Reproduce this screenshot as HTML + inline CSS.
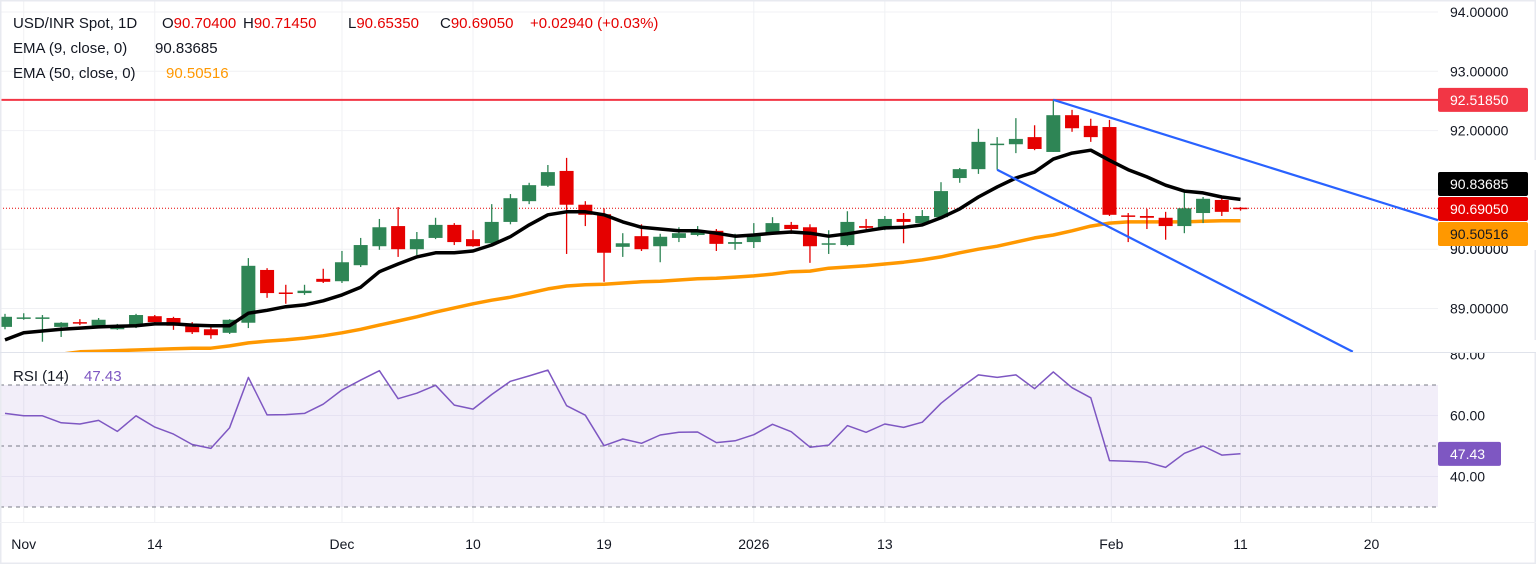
<!DOCTYPE html>
<html><head><meta charset="utf-8">
<style>
html,body{margin:0;padding:0;background:#fff;}
body{width:1536px;height:564px;overflow:hidden;font-family:"Liberation Sans",sans-serif;}
svg{display:block;}
text{font-family:"Liberation Sans",sans-serif;}
</style></head>
<body>
<svg id="chart" width="1536" height="564" viewBox="0 0 1536 564" xmlns="http://www.w3.org/2000/svg">
  <rect x="0" y="0" width="1536" height="564" fill="#fff"/>
  <defs>
    <clipPath id="pclip"><rect x="0" y="0" width="1438" height="352"/></clipPath>
    <clipPath id="rclip"><rect x="0" y="353" width="1438" height="168"/></clipPath>
  </defs>
  <g id="grid"></g>
  <g id="rsiBg"></g>
  <g id="price" clip-path="url(#pclip)"></g>
  <g id="rsi" clip-path="url(#rclip)"></g>
  <g id="axes"></g>
  <g id="legend" font-size="15">
    <text x="13" y="28" fill="#131722">USD/INR Spot, 1D</text>
    <text x="162" y="28" fill="#131722">O<tspan fill="#e50000">90.70400</tspan></text>
    <text x="243" y="28" fill="#131722">H<tspan fill="#e50000">90.71450</tspan></text>
    <text x="348" y="28" fill="#131722">L<tspan fill="#e50000">90.65350</tspan></text>
    <text x="440" y="28" fill="#131722">C<tspan fill="#e50000">90.69050</tspan></text>
    <text x="530" y="28" fill="#e50000">+0.02940 (+0.03%)</text>
    <text x="13" y="53" fill="#131722">EMA (9, close, 0)</text>
    <text x="155" y="53" fill="#131722">90.83685</text>
    <text x="13" y="78" fill="#131722">EMA (50, close, 0)</text>
    <text x="166" y="78" fill="#ff9800">90.50516</text>
    <text x="13" y="381" fill="#131722">RSI (14)</text>
    <text x="84" y="381" fill="#7e57c2">47.43</text>
  </g>
</svg>
<script>
const opens = [88.69,88.84,88.84,88.69,88.77,88.71,88.65,88.71,88.87,88.84,88.72,88.65,88.59,88.76,89.65,89.27,89.26,89.50,89.46,89.73,90.05,90.39,90.00,90.19,90.41,90.17,90.10,90.46,90.81,91.07,91.32,90.75,90.59,90.04,90.22,90.05,90.19,90.24,90.31,90.09,90.12,90.26,90.41,90.37,90.09,90.07,90.39,90.34,90.51,90.44,90.54,91.20,91.35,91.76,91.77,91.89,91.64,92.26,92.08,92.06,90.57,90.56,90.53,90.39,90.61,90.83,90.70];
const highs = [88.91,88.92,88.89,88.77,88.82,88.84,88.74,88.91,88.89,88.86,88.77,88.69,88.82,89.85,89.68,89.40,89.40,89.67,89.97,90.19,90.51,90.71,90.29,90.53,90.44,90.32,90.76,90.93,91.12,91.42,91.54,90.81,90.69,90.27,90.42,90.26,90.37,90.39,90.34,90.26,90.44,90.54,90.46,90.42,90.32,90.64,90.51,90.56,90.61,90.66,91.13,91.37,92.03,91.89,92.21,92.09,92.52,92.35,92.20,92.18,90.61,90.68,90.63,90.97,90.88,90.88,90.71];
const lows = [88.65,88.81,88.44,88.52,88.72,88.69,88.64,88.67,88.72,88.64,88.57,88.49,88.57,88.67,89.18,89.08,89.23,89.43,89.43,89.70,89.99,89.87,89.90,90.17,90.07,90.04,90.07,90.42,90.76,91.05,89.92,90.39,89.45,89.87,89.97,89.78,90.12,90.22,89.97,89.99,90.02,90.24,90.26,89.77,89.92,90.05,90.34,90.32,90.10,90.42,90.53,91.12,91.27,91.34,91.62,91.67,91.64,91.98,91.81,90.56,90.12,90.34,90.16,90.27,90.44,90.56,90.65];
const closes = [88.86,88.85,88.85,88.76,88.75,88.81,88.71,88.89,88.77,88.71,88.60,88.55,88.81,89.72,89.26,89.26,89.30,89.45,89.78,90.07,90.37,90.00,90.17,90.41,90.12,90.05,90.46,90.86,91.08,91.30,90.75,90.58,89.94,90.10,90.00,90.21,90.27,90.29,90.09,90.12,90.24,90.44,90.34,90.05,90.10,90.46,90.36,90.51,90.46,90.56,90.98,91.35,91.81,91.78,91.86,91.69,92.26,92.04,91.89,90.58,90.56,90.53,90.39,90.69,90.85,90.63,90.69];
const ema9 = [88.47,88.59,88.62,88.65,88.67,88.69,88.70,88.71,88.74,88.74,88.72,88.71,88.71,88.92,88.97,89.03,89.06,89.13,89.23,89.36,89.62,89.75,89.87,89.94,89.94,89.97,90.07,90.21,90.41,90.58,90.63,90.63,90.58,90.46,90.37,90.34,90.31,90.31,90.27,90.22,90.24,90.27,90.29,90.27,90.22,90.26,90.31,90.36,90.37,90.41,90.53,90.68,90.88,91.05,91.20,91.30,91.52,91.62,91.67,91.50,91.34,91.22,91.08,90.98,90.95,90.88,90.84];
const ema50 = [88.13,88.17,88.20,88.23,88.27,88.28,88.29,88.30,88.31,88.32,88.33,88.33,88.37,88.42,88.45,88.47,88.50,88.54,88.59,88.65,88.72,88.79,88.86,88.94,89.01,89.08,89.14,89.19,89.26,89.33,89.38,89.40,89.41,89.43,89.45,89.46,89.48,89.50,89.51,89.53,89.55,89.58,89.62,89.63,89.68,89.70,89.72,89.75,89.78,89.82,89.87,89.94,90.00,90.05,90.12,90.19,90.24,90.31,90.39,90.44,90.46,90.46,90.46,90.46,90.47,90.48,90.48];
const rsiValues = [60.7,59.9,59.9,57.6,57.2,58.4,54.8,59.9,56.2,53.9,50.5,49.2,56.0,72.5,60.2,60.3,60.7,63.7,68.4,71.6,74.7,65.5,67.3,69.9,63.4,62.1,66.9,71.2,73.0,74.9,63.2,60.1,50.1,52.3,50.9,53.6,54.5,54.6,51.1,51.7,53.7,57.1,54.7,49.6,50.3,56.7,54.5,57.2,56.1,57.8,64.0,68.9,73.3,72.5,73.3,68.8,74.3,69.1,65.8,45.2,45.0,44.7,43.0,47.6,50.0,47.0,47.43];
const priceTicks = [94,93,92,91,90,89];
const priceTickLabels = ["94.00000","93.00000","92.00000","91.00000","90.00000","89.00000"];
const rsiTicks = [80,60,40];
const rsiTickLabels = ["80.00","60.00","40.00"];
const timeLabels = ["Nov","14","Dec","10","19","2026","13","Feb","11","20"];
const timeIndex = [1.0,8.0,18.0,25.0,32.0,40.0,47.0,59.1,66.0,73.0];
const resistance = 92.5185;
const lastClose = 90.6905;
const upperTrend = [[56,92.52],[76.55,90.49]];
const lowerTrend = [[53,91.34],[72.0,88.27]];

const NS="http://www.w3.org/2000/svg";
const X = i => 5 + 18.72*i;
const Y = p => 12 + (94-p)*59.3;
const RY = r => 446 - (r-50)*3.05;
function mk(tag, attrs, parent){const e=document.createElementNS(NS,tag);for(const k in attrs)e.setAttribute(k,attrs[k]);parent.appendChild(e);return e;}
const grid=document.getElementById('grid'), price=document.getElementById('price'), rsi=document.getElementById('rsi'), axes=document.getElementById('axes'), rsiBg=document.getElementById('rsiBg');

let fr=mk('rect',{x:0.5,y:0.5,width:1535,height:563,fill:'none',stroke:'#e8eaf0','stroke-width':2},axes);



priceTicks.forEach(p=>{const l=mk('line',{x1:0,x2:1438,y1:Y(p),y2:Y(p),stroke:'#f0f1f4','stroke-width':1},grid);

});
timeIndex.forEach(t=>{const l=mk('line',{x1:X(t),x2:X(t),y1:0,y2:522,stroke:'#f0f1f4','stroke-width':1},grid);

});

let band=mk('rect',{x:0,y:RY(70),width:1438,height:RY(30)-RY(70),fill:'#7e57c2','fill-opacity':0.1},rsiBg);


[60,40].forEach(r=>{const l=mk('line',{x1:0,x2:1438,y1:RY(r),y2:RY(r),stroke:'#e6e2f2','stroke-width':1},rsiBg);

});
[70,50,30].forEach(r=>{const l=mk('line',{x1:0,x2:1438,y1:RY(r),y2:RY(r),stroke:'#787b86','stroke-width':1,'stroke-dasharray':'4 4'},rsiBg);

});

let dv=mk('line',{x1:0,x2:1536,y1:352.5,y2:352.5,stroke:'#e0e3eb','stroke-width':1},axes);



let rl=mk('line',{x1:0,x2:1438,y1:Y(resistance),y2:Y(resistance),stroke:'#f23645','stroke-width':2},price);


let lp=mk('line',{x1:0,x2:1438,y1:Y(lastClose),y2:Y(lastClose),stroke:'#e50000','stroke-width':1,'stroke-dasharray':'1 2'},price);



let pts50=ema50.map((v,i)=>X(i).toFixed(1)+','+Y(v).toFixed(1)).join(' ');
let e50=mk('polyline',{points:pts50,fill:'none',stroke:'#ff9800','stroke-width':3.5,'stroke-linejoin':'round'},price);



for(let i=0;i<opens.length;i++){
  const up=closes[i]>=opens[i];
  const col=up?'#2e8555':'#e50000';
  const g=mk('g',{},price);
  
  
  mk('line',{x1:X(i),x2:X(i),y1:Y(highs[i]),y2:Y(lows[i]),stroke:col,'stroke-width':1.3},g);
  const top=Y(Math.max(opens[i],closes[i])), bot=Y(Math.min(opens[i],closes[i]));
  mk('rect',{x:X(i)-7,y:top,width:14,height:Math.max(bot-top,1.5),fill:col},g);
}

let pts9=ema9.map((v,i)=>X(i).toFixed(1)+','+Y(v).toFixed(1)).join(' ');
let e9=mk('polyline',{points:pts9,fill:'none',stroke:'#000','stroke-width':3.5,'stroke-linejoin':'round'},price);



let ut=mk('line',{x1:X(upperTrend[0][0]),y1:Y(upperTrend[0][1]),x2:X(upperTrend[1][0]),y2:Y(upperTrend[1][1]),stroke:'#2962ff','stroke-width':2.2},price);


let lt=mk('line',{x1:X(lowerTrend[0][0]),y1:Y(lowerTrend[0][1]),x2:X(lowerTrend[1][0]),y2:Y(lowerTrend[1][1]),stroke:'#2962ff','stroke-width':2.2},price);



let rp=rsiValues.map((v,i)=>X(i).toFixed(1)+','+RY(v).toFixed(1)).join(' ');
let rline=mk('polyline',{points:rp,fill:'none',stroke:'#7e57c2','stroke-width':1.5,'stroke-linejoin':'round'},rsi);



priceTicks.forEach((p,k)=>{const t=mk('text',{x:1450,y:Y(p)+5,'font-size':14,fill:'#131722'},axes);t.textContent=priceTickLabels[k];

});
rsiTicks.forEach((r,k)=>{const t=mk('text',{x:1450,y:RY(r)+5,'font-size':14,fill:'#131722'},axes);t.textContent=rsiTickLabels[k];

});
let cov=mk('rect',{x:1438,y:340,width:98,height:12,fill:'#fff'},axes);


let dv2=mk('line',{x1:1438,x2:1536,y1:352.5,y2:352.5,stroke:'#e0e3eb','stroke-width':1},axes);



function badge(y,txt,bg,fg,w,name){
  const g=mk('g',{},axes);
  
  
  mk('rect',{x:1438,y:y-12,width:w,height:24,fill:bg,rx:2},g);
  const t=mk('text',{x:1450,y:y+5,'font-size':14,fill:fg},g);t.textContent=txt;
}
let m91=mk('rect',{x:1438,y:160,width:98,height:90,fill:'#fff'},axes);


let t90=mk('text',{x:1450,y:Y(90)+5,'font-size':14,fill:'#131722'},axes);t90.textContent="90.00000";


badge(Y(resistance),'92.51850','#f23645','#fff',90,'resistance-badge');
badge(184,'90.83685','#000','#fff',90,'ema9-badge');
badge(209,'90.69050','#e50000','#fff',90,'last-price-badge');
badge(234,'90.50516','#ff9800','#131722',90,'ema50-badge');
badge(RY(47.43),'47.43','#7e57c2','#fff',63,'rsi-badge');

timeLabels.forEach((s,k)=>{const t=mk('text',{x:X(timeIndex[k]),y:549,'font-size':14,fill:'#131722','text-anchor':'middle'},axes);t.textContent=s;

});
let tb=mk('line',{x1:0,x2:1536,y1:522.5,y2:522.5,stroke:'#f0f1f4','stroke-width':1},axes);


</script>
</body></html>
